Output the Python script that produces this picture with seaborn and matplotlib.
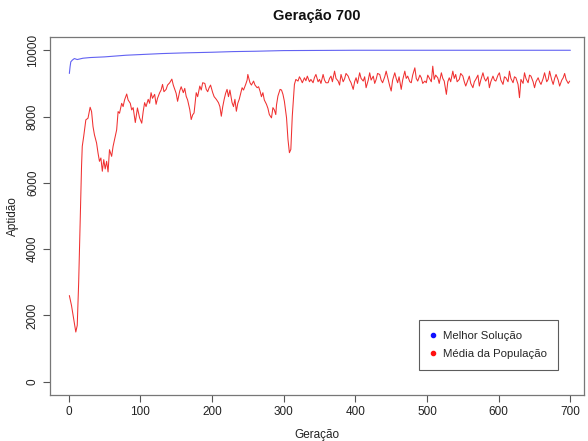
import matplotlib
matplotlib.use("Agg")
import matplotlib.pyplot as plt
from matplotlib.lines import Line2D
import seaborn as sns
import pandas as pd

title = "Geração 700"
xlabel = "Geração"
ylabel = "Aptidão"
legend_labels = ["Melhor Solução", "Média da População"]
x_ticks = [0, 100, 200, 300, 400, 500, 600, 700]
y_ticks = [0, 2000, 4000, 6000, 8000, 10000]

best_gen = [1, 2, 3, 5, 8, 12, 20, 30, 50, 80, 100, 130, 160, 200, 230, 260, 300, 400, 700]
best_val = [9300, 9500, 9650, 9700, 9750, 9720, 9760, 9780, 9800, 9850, 9870, 9900,
            9920, 9940, 9960, 9970, 9990, 10000, 10000]

mean_gen_early = [
    1, 4, 7, 10, 12, 14, 16, 18, 19, 21,
    24, 27, 30, 32, 34, 36, 39, 41, 43, 45,
    47, 49, 51, 53, 55, 57, 60, 62, 64, 67,
    69, 71, 74, 76, 78, 81, 83, 86, 88, 90,
    93, 96, 99, 102, 104, 106, 108, 111, 113, 115,
    117, 120, 122, 124, 127, 129, 131, 133, 136, 138,
    141, 144, 146, 148, 150, 152, 155, 157, 160, 162,
    164, 166, 169, 171, 173, 175, 178, 180, 183, 185,
    187, 190, 192, 194, 196, 198, 201, 203, 206, 209,
    211, 213, 215, 217, 219, 221, 223, 225, 228, 230,
    232, 234, 236, 238, 240, 242, 244, 247, 249, 250,
    253, 255, 258, 260, 263, 265, 267, 269, 271, 273,
    276, 278, 280, 283, 285, 287, 289, 290, 292, 295,
    297, 299, 301, 304, 306, 308, 310, 312]
mean_val_early = [
    2600, 2300, 1900, 1500, 1700, 3000, 4800, 6500, 7100, 7400,
    7900, 7950, 8280, 8150, 7700, 7450, 7200, 6900, 6650, 6750,
    6350, 6700, 6420, 6650, 6330, 7000, 6800, 7100, 7300, 7600,
    8150, 8100, 8400, 8300, 8500, 8680, 8500, 8400, 8200, 8270,
    7820, 8260, 7960, 7800, 8150, 8420, 8300, 8520, 8400, 8720,
    8550, 8670, 8370, 8550, 8720, 8800, 8970, 8750, 8820, 8950,
    9020, 9130, 8950, 8820, 8700, 8460, 8770, 8900, 8720, 8850,
    8610, 8500, 8210, 7910, 8050, 8110, 8720, 8600, 8920, 8800,
    9020, 9000, 8820, 8750, 8870, 8950, 8720, 8600, 8520, 8420,
    8300, 8010, 8300, 8520, 8700, 8820, 8600, 8800, 8420, 8300,
    8520, 8160, 8400, 8520, 8700, 8870, 8800, 8970, 9100, 9270,
    9020, 8950, 9070, 8950, 8870, 8900, 8770, 8600, 8720, 8500,
    8370, 8250, 8060, 7960, 8270, 8200, 8060, 8350, 8620, 8820,
    8800, 8670, 8460, 7960, 7310, 6910, 7010, 8010]

mean_gen_late = [
    315, 317, 320, 322, 324, 326, 329, 331, 333, 336,
    338, 341, 343, 345, 348, 350, 352, 355, 357, 359,
    362, 364, 366, 368, 371, 373, 376, 378, 380, 383,
    385, 387, 390, 392, 394, 397, 399, 401, 403, 406,
    408, 411, 413, 415, 418, 420, 422, 425, 427, 429,
    431, 434, 436, 438, 441, 443, 446, 448, 450, 452,
    455, 457, 459, 461, 464, 466, 469, 471, 473, 476,
    478, 480, 483, 485, 487, 490, 492, 494, 497, 499,
    501, 503, 506, 508, 510, 512, 515, 517, 520, 522,
    524, 527, 529, 531, 533, 536, 538, 540, 542, 545,
    547, 550, 552, 554, 557, 559, 561, 564, 566, 568,
    571, 573, 575, 578, 580, 582, 585, 587, 589, 592,
    594, 596, 599, 601, 603, 606, 608, 610, 613, 615,
    617, 620, 622, 624, 627, 629, 631, 634, 636, 638,
    641, 643, 645, 648, 650, 652, 655, 657, 659, 662,
    664, 667, 669, 671, 674, 676, 678, 680, 683, 685,
    688, 690, 692, 694, 697, 699]
mean_val_late = [
    8970, 9120, 9070, 9200, 9120, 9020, 9170, 9080, 9220, 9050,
    9120, 9020, 9180, 9270, 9050, 9120, 9000, 9270, 9100, 9020,
    9020, 9150, 9220, 9050, 9370, 9150, 9070, 8950, 9270, 9050,
    9140, 9300, 9220, 9100, 9020, 8820, 9050, 9170, 9000, 9320,
    9150, 9070, 9200, 8870, 9100, 9320, 9100, 9220, 9000, 9120,
    9300, 9270, 9100, 9020, 9200, 9370, 9100, 8920, 8770, 9100,
    9320, 9150, 9020, 9200, 8820, 9100, 9370, 9150, 9220, 9050,
    9020, 9250, 9470, 9150, 9070, 9250, 9170, 9000, 9070, 9020,
    9250, 9170, 9050, 9520, 9120, 9250, 9170, 9000, 9320, 9150,
    9070, 8670, 9050, 9170, 9050, 9370, 9150, 9270, 9050, 9120,
    9300, 9220, 9050, 8920, 9100, 9220, 9000, 8870, 9050, 9120,
    9250, 8920, 9100, 9320, 9150, 9070, 9200, 8870, 9050, 9220,
    9100, 9070, 9250, 9320, 9100, 8970, 9200, 9170, 9050, 9370,
    9150, 9020, 9200, 9170, 8970, 8570, 9120, 9000, 9320, 9150,
    9020, 9250, 9220, 9050, 8870, 9050, 9170, 9050, 8970, 9150,
    9320, 9050, 9120, 9370, 9100, 8970, 9150, 9270, 9100, 8920,
    9100, 9170, 9300, 9120, 9000, 9070]

blue_line = "#6262f2"
red_line = "#f03030"

sns.set_theme(style="white")
plt.rcParams["font.family"] = ["Liberation Sans", "DejaVu Sans"]

fig = plt.figure(figsize=(5.88, 4.41), dpi=100)
ax = fig.add_axes([50 / 588, 1 - 395 / 441, 534 / 588, 358 / 441])

best_df = pd.DataFrame({"gen": best_gen, "val": best_val})
mean_df = pd.DataFrame({"gen": mean_gen_early + mean_gen_late,
                        "val": mean_val_early + mean_val_late})
sns.lineplot(data=best_df, x="gen", y="val", ax=ax, color=blue_line, linewidth=0.8,
             estimator=None, sort=False)
sns.lineplot(data=mean_df, x="gen", y="val", ax=ax, color=red_line, linewidth=0.75,
             estimator=None, sort=False)

ax.set_xlim(-26, 719)
ax.set_ylim(-400, 10400)
ax.set_xticks(x_ticks)
ax.set_yticks(y_ticks)
ax.set_xticklabels([str(t) for t in x_ticks], fontsize=8.5, color="#222222")
ax.set_yticklabels([str(t) for t in y_ticks], fontsize=8.5, color="#222222",
                   rotation=90, va="center")
ax.tick_params(axis="both", which="major", direction="out", length=5, width=0.8,
               color="#555555", bottom=True, left=True, pad=3)
for s in ax.spines.values():
    s.set_color("#777777")
    s.set_linewidth(0.9)
ax.set_xlabel(xlabel, fontsize=8.5, color="#222222", labelpad=8)
ax.set_ylabel(ylabel, fontsize=8.5, color="#222222", labelpad=6)
ax.set_title(title, fontsize=10.5, fontweight="bold", color="#111111", pad=12)

handles = [
    Line2D([], [], linestyle="none", marker="o", markersize=3, color="#1010ff"),
    Line2D([], [], linestyle="none", marker="o", markersize=3, color="#ff1010"),
]
leg = ax.legend(handles, legend_labels, loc="lower right", bbox_to_anchor=(0.951, 0.07),
                fontsize=8.2, frameon=True, fancybox=False, edgecolor="#333333",
                handlelength=0.6, handletextpad=0.6, borderpad=0.95,
                labelspacing=0.7, borderaxespad=0)
leg.get_frame().set_linewidth(0.8)

fig.savefig("out.png", dpi=100, facecolor="white")
